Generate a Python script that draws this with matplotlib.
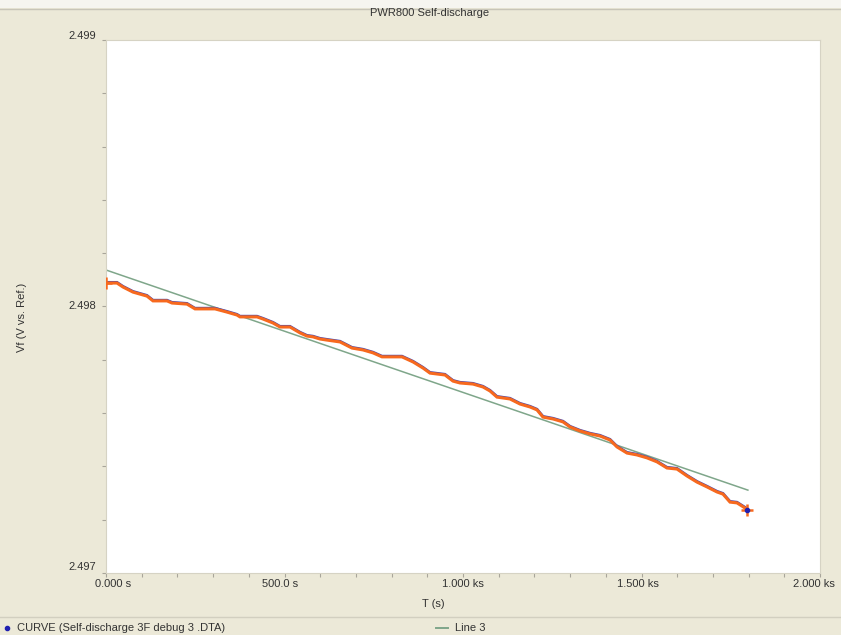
import numpy as np
import matplotlib.pyplot as plt
import matplotlib.transforms as mtransforms
from matplotlib.lines import Line2D
from matplotlib.patches import Rectangle

# self-discharge curve
t_s = [0.0, 30.8, 47.6, 75.6, 114.8, 131.7, 170.9, 184.9, 226.9, 249.3,
       305.3, 338.9, 366.9, 375.3, 423.0, 439.8, 467.8, 487.4, 515.4, 543.4,
       563.0, 579.8, 599.4, 619.0, 655.5, 689.1, 719.9, 747.9, 773.1, 829.1,
       860.0, 888.0, 907.6, 949.6, 972.0, 991.6, 1028.0, 1056.0, 1075.6, 1095.2,
       1131.6, 1159.7, 1187.7, 1207.3, 1224.1, 1252.1, 1280.1, 1299.7, 1327.7, 1355.7,
       1383.8, 1411.8, 1431.4, 1459.4, 1487.4, 1515.4, 1543.4, 1571.4, 1599.5, 1627.5,
       1655.5, 1683.5, 1711.5, 1728.3, 1747.9, 1767.5, 1789.9, 1795.5]
vf = [2.498088, 2.498088, 2.498073, 2.498054, 2.498039, 2.498021, 2.498021, 2.498013, 2.498009, 2.497991,
      2.497991, 2.497979, 2.497968, 2.497961, 2.497961, 2.497953, 2.497938, 2.497923, 2.497923, 2.497901,
      2.497889, 2.497886, 2.497878, 2.497874, 2.497867, 2.497844, 2.497837, 2.497826, 2.497811, 2.497811,
      2.497792, 2.497769, 2.497750, 2.497743, 2.497720, 2.497713, 2.497709, 2.497698, 2.497683, 2.497660,
      2.497653, 2.497634, 2.497623, 2.497612, 2.497585, 2.497578, 2.497567, 2.497548, 2.497533, 2.497522,
      2.497514, 2.497499, 2.497473, 2.497450, 2.497443, 2.497432, 2.497417, 2.497394, 2.497390, 2.497364,
      2.497341, 2.497323, 2.497304, 2.497296, 2.497266, 2.497263, 2.497244, 2.497236]

# fitted line ("Line 3")
fit_t = [0.0, 1798.0]
fit_v = [2.498137, 2.497311]

x_ticks = [0, 500, 1000, 1500, 2000]
x_labels = ['0.000 s', '500.0 s', '1.000 ks', '1.500 ks', '2.000 ks']
y_ticks = [2.497, 2.498, 2.499]
y_labels = ['2.497', '2.498', '2.499']

bg = '#ECE9D8'
plt.rcParams['font.family'] = ['Liberation Sans', 'DejaVu Sans']

fig = plt.figure(figsize=(8.41, 6.35), dpi=100, facecolor=bg)
ax = fig.add_axes([106 / 841, 1 - 573 / 635, 714 / 841, 533 / 635])
ax.set_facecolor('white')

ax.plot(fit_t, fit_v, color='#7FA68A', lw=1.1, zorder=2)
up = mtransforms.offset_copy(ax.transData, fig=fig, x=0, y=0.5, units='points')
ax.plot(t_s, vf, color='#4A48B0', lw=2.0, zorder=3, transform=up,
        solid_joinstyle='miter')
ax.plot(t_s, vf, color='#F7691E', lw=2.2, zorder=4, solid_joinstyle='miter',
        marker='+', markersize=9, markeredgewidth=1.8, markevery=[0, len(t_s) - 1])
ax.plot(t_s[-1:], vf[-1:], 'o', color='#2020B0', markersize=3, zorder=5)

ax.set_xlim(0, 2000)
ax.set_ylim(2.497, 2.499)
ax.set_xticks(x_ticks)
ax.set_xticks(np.arange(0, 2001, 100), minor=True)
ax.set_yticks(y_ticks)
ax.set_yticks(np.arange(2.497, 2.4991, 0.0002), minor=True)
ax.set_xticklabels([])
ax.set_yticklabels([])
ax.tick_params(which='both', direction='out', length=3, width=0.8, color='#A8A59A')
for s in ax.spines.values():
    s.set_color('#D6D3C4')
    s.set_linewidth(0.8)

txt = dict(fontsize=8, color='#333333')
# x tick labels
xoff = [7, -4, 0, -4, -6]
for xt, lab, dx in zip(x_ticks, x_labels, xoff):
    tr = mtransforms.offset_copy(ax.get_xaxis_transform(), fig=fig, x=dx, y=-6, units='dots')
    ax.text(xt, 0, lab, transform=tr, ha='center', va='top', **txt)
# y tick labels
yoff = [6, 0, 4]
for yt, lab, dy in zip(y_ticks, y_labels, yoff):
    tr = mtransforms.offset_copy(ax.get_yaxis_transform(), fig=fig, x=-10, y=dy, units='dots')
    ax.text(0, yt, lab, transform=tr, ha='right', va='center', **txt)

fig.text(433 / 841, 1 - 604 / 635, 'T (s)', ha='center', va='center', **txt)
fig.text(22 / 841, 1 - 317 / 635, 'Vf (V vs. Ref.)', rotation=90, ha='center', va='center', **txt)
fig.text(430 / 841, 1 - 13 / 635, 'PWR800 Self-discharge', ha='center', va='center', **txt)

# window frame bits
fig.patches.append(Rectangle((0, 1 - 8 / 635), 1, 8 / 635, transform=fig.transFigure,
                             facecolor='#F6F5F0', edgecolor='none'))
fig.lines.append(Line2D([0, 1], [1 - 8.5 / 635, 1 - 8.5 / 635], transform=fig.transFigure,
                        color='#C8C5B8', lw=1))
fig.lines.append(Line2D([0, 1], [1 - 617 / 635, 1 - 617 / 635], transform=fig.transFigure,
                        color='#D2CFC0', lw=1))

# legend row
fig.lines.append(Line2D([7 / 841], [1 - 628 / 635], transform=fig.transFigure,
                        marker='o', markersize=3, color='#2020B0', lw=0))
fig.text(17 / 841, 1 - 628 / 635, 'CURVE (Self-discharge 3F debug 3 .DTA)', ha='left', va='center', **txt)
fig.lines.append(Line2D([436 / 841, 448 / 841], [1 - 628 / 635] * 2, transform=fig.transFigure,
                        color='#7FA68A', lw=1.4))
fig.text(455 / 841, 1 - 628 / 635, 'Line 3', ha='left', va='center', **txt)

fig.savefig('out.png', dpi=100, facecolor=bg)
